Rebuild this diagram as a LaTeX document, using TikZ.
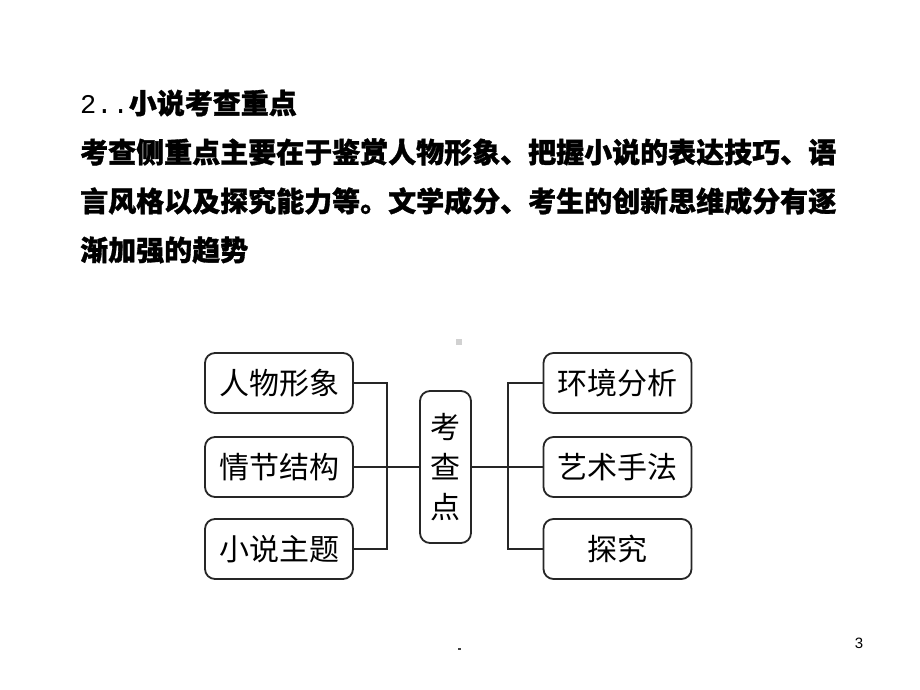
\documentclass[tikz,border=0pt]{standalone}
\usepackage{fontspec}
\newfontfamily\cjk{Noto Sans CJK SC}
\newfontfamily\cjkh{Noto Sans CJK SC}[BoldFeatures={FakeBold=1.2}]
\newfontfamily\monof{Liberation Mono}
\newfontfamily\sansf{Liberation Sans}
\begin{document}
\begin{tikzpicture}[x=1pt,y=-1pt,
  box/.style={draw=black!85, line width=1.8pt, rounded corners=10pt, minimum width=148pt, minimum height=60pt, inner sep=0pt, font=\cjk\fontsize{30}{30}\selectfont},
  cbox/.style={draw=black!85, line width=1.8pt, rounded corners=10pt, minimum width=51pt, minimum height=152pt, inner sep=0pt, align=center, font=\cjk\fontsize{30}{40}\selectfont},
  conn/.style={draw=black!85, line width=1.5pt},
  head/.style={anchor=west, inner sep=0pt, font=\cjkh\bfseries\fontsize{28}{28}\selectfont}]
\useasboundingbox (0,0) rectangle (920,690);
\fill[white] (0,0) rectangle (920,690);
% header text
\node[head] (h1) at (80,103) {{\monof\mdseries\fontsize{27}{27}\selectfont 2..}小说考查重点};
\node[head] (h2) at (80,152) {考查侧重点主要在于鉴赏人物形象、把握小说的表达技巧、语};
\node[head] (h3) at (80,201) {言风格以及探究能力等。文学成分、考生的创新思维成分有逐};
\node[head] (h4) at (80,250) {渐加强的趋势};
% boxes
\node[box] (l1) at (279,383) {人物形象};
\node[box] (l2) at (279,467) {情节结构};
\node[box] (l3) at (279,549) {小说主题};
\node[box] (r1) at (617.5,383) {环境分析};
\node[box] (r2) at (617.5,467) {艺术手法};
\node[box] (r3) at (617.5,549) {探究};
\node[cbox] (c) at (445.5,467) {考\\查\\点};
% connectors
\coordinate (lj) at (387,467);
\coordinate (rj) at (508,467);
\draw[conn] (l1.east) -| (lj);
\draw[conn] (l3.east) -| (lj);
\draw[conn] (l2.east) -- (lj) -- (c.west);
\draw[conn] (c.east) -- (rj) -- (r2.west);
\draw[conn] (r1.west) -| (rj);
\draw[conn] (r3.west) -| (rj);
% small marks
\fill[black!18] (456,339) rectangle (462,345);
\fill[black!75] (458,647.5) rectangle (460.5,650);
\node[inner sep=0pt, font=\sansf\fontsize{15}{15}\selectfont] (pn) at (859,643) {3};
\end{tikzpicture}
\end{document}
